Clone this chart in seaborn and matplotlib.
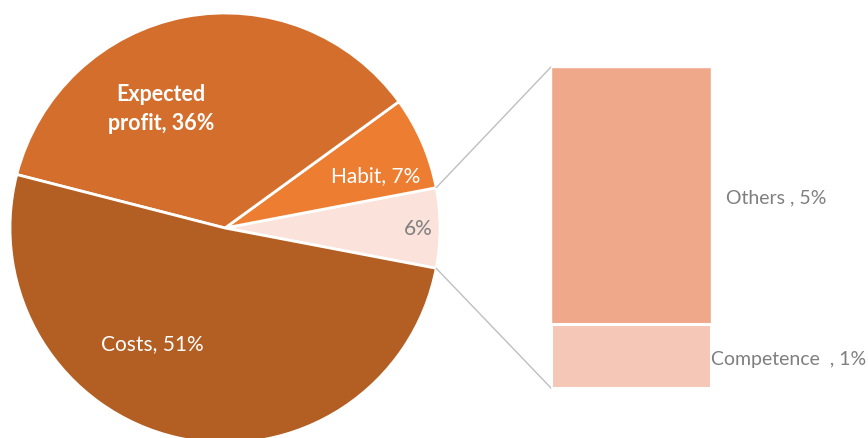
import numpy as np
import pandas as pd
import matplotlib
matplotlib.use("Agg")
import matplotlib.pyplot as plt
import seaborn as sns

# ---- data ----
pie_labels = ["6%", "Habit", "Expected profit", "Costs"]
pie_values = [6, 7, 36, 51]
pie_colors = ["#FBE2DA", "#ED7D31", "#D46E2C", "#B35E22"]

bar_labels = ["Others", "Competence"]
bar_values = [4.8, 1.2]
bar_colors = ["#F0A88A", "#F5C7B6"]

sns.set_theme(style="white")
plt.rcParams['font.family'] = ['Lato', 'DejaVu Sans']

W, H = 868, 438
fig = plt.figure(figsize=(W / 100, H / 100), dpi=100)
ax = fig.add_axes([0, 0, 1, 1])

cx, cy, R = 225, H - 228, 215
start = -pie_values[0] / 100 * 360 / 2
ax.pie(pie_values, colors=pie_colors, startangle=start, counterclock=True,
       center=(cx, cy), radius=R, frame=False,
       wedgeprops=dict(edgecolor="white", linewidth=2))
ax.set_xlim(0, W)
ax.set_ylim(0, H)
ax.set_aspect("equal")
ax.axis("off")

fs = 15
ax.text(161, H - 109, "Expected\nprofit, 36%", color="white", fontsize=15.5,
        fontweight="bold", ha="center", va="center", linespacing=1.5)
ax.text(376, H - 176, "Habit, 7%", color="white", fontsize=fs, ha="center", va="center")
ax.text(418, H - 229, "6%", color="#7F7F7F", fontsize=fs, ha="center", va="center")
ax.text(152, H - 344, "Costs, 51%", color="white", fontsize=fs, ha="center", va="center")

# ---- bar of pie ----
bx0, bx1, by0, by1 = 551, 711, 67, 388
bax = fig.add_axes([bx0 / W, (H - by1) / H, (bx1 - bx0) / W, (by1 - by0) / H])
total = sum(bar_values)
df_tot = pd.DataFrame({"cat": ["x"], "val": [total]})
df_comp = pd.DataFrame({"cat": ["x"], "val": [bar_values[1]]})
sns.barplot(data=df_tot, x="cat", y="val", color=bar_colors[0], width=1,
            saturation=1, ax=bax)
sns.barplot(data=df_comp, x="cat", y="val", color=bar_colors[1], width=1,
            saturation=1, ax=bax, edgecolor="white", linewidth=2.2)
bax.set_xlim(-0.5, 0.5)
bax.set_ylim(0, total)
bax.axis("off")

fs2 = 14
ax.text(726, H - 198, f"{bar_labels[0]} , {round(bar_values[0])}%", color="#7F7F7F",
        fontsize=fs2, ha="left", va="center")
ax.text(711, H - 360, f"{bar_labels[1]}  , {round(bar_values[1])}%", color="#7F7F7F",
        fontsize=fs2, ha="left", va="center")

# connector lines
a1 = np.deg2rad(-start)
a2 = np.deg2rad(start)
ax.plot([cx + R * np.cos(a1), bx0], [cy + R * np.sin(a1), H - by0],
        color="#BFBFBF", lw=1)
ax.plot([cx + R * np.cos(a2), bx0], [cy + R * np.sin(a2), H - by1],
        color="#BFBFBF", lw=1)

fig.savefig("out.png", dpi=100)
